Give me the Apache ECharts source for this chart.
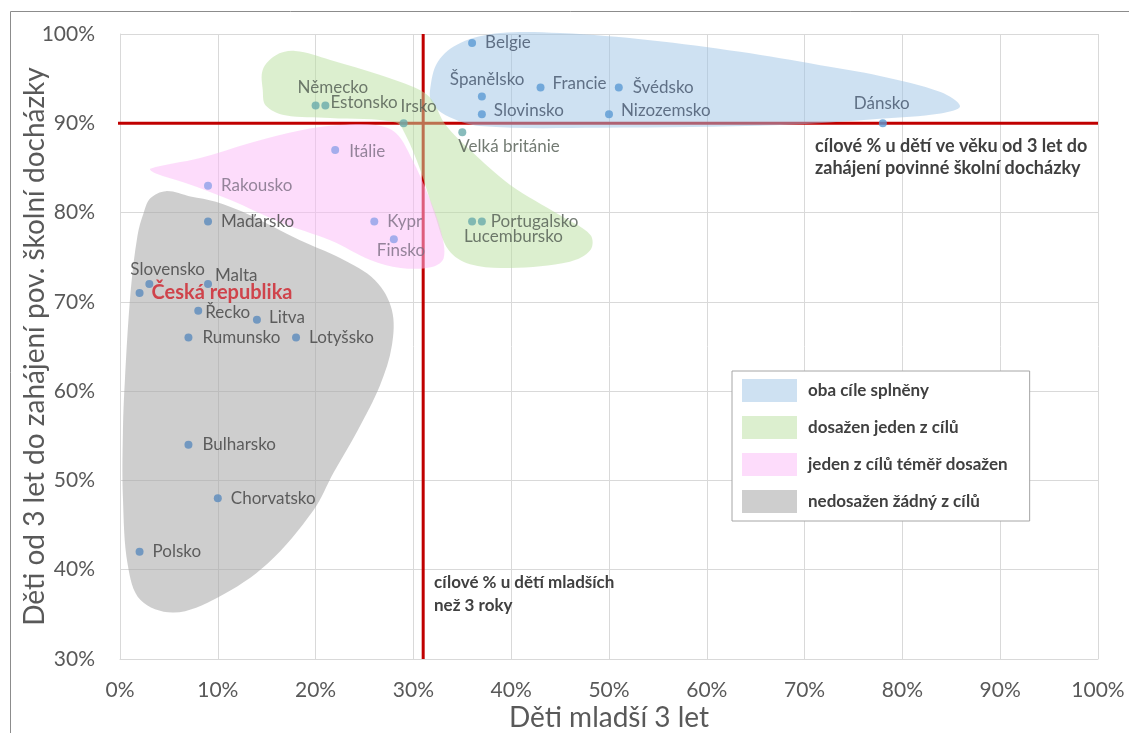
<!DOCTYPE html>
<html>
<head>
<meta charset="utf-8">
<title>Cíle péče o děti</title>
<script src="https://cdn.jsdelivr.net/npm/echarts@6/dist/echarts.min.js"></script>
<style>
  html, body { margin: 0; padding: 0; background: #fff; }
  #chart { width: 1129px; height: 733px; }
</style>
</head>
<body>
<div id="chart"></div>
<script>
// hodnoty (%)
const countries = ['Belgie', 'Španělsko', 'Francie', 'Švédsko', 'Slovinsko', 'Nizozemsko', 'Dánsko',
  'Německo', 'Estonsko', 'Irsko', 'Velká británie', 'Portugalsko', 'Lucembursko',
  'Itálie', 'Rakousko', 'Kypr', 'Finsko',
  'Maďarsko', 'Slovensko', 'Malta', 'Česká republika', 'Řecko', 'Litva', 'Rumunsko', 'Lotyšsko',
  'Bulharsko', 'Chorvatsko', 'Polsko']
const under3 = [36, 37, 43, 51, 37, 50, 78, 20, 21, 29, 35, 37, 36, 22, 9, 26, 28, 9, 3, 9, 2, 8, 14, 7, 18, 7, 10, 2]
const from3 = [99, 93, 94, 94, 91, 91, 90, 92, 92, 90, 89, 79, 79, 87, 83, 79, 77, 79, 72, 72, 71, 69, 68, 66, 66, 54, 48, 42]
const groupOf = ['both', 'both', 'both', 'both', 'both', 'both', 'both',
  'one', 'one', 'one', 'one', 'one', 'one',
  'almost', 'almost', 'almost', 'almost',
  'none', 'none', 'none', 'none', 'none', 'none', 'none', 'none', 'none', 'none', 'none']

const targetUnder3 = 31
const targetFrom3 = 90

const groupNames = ['oba cíle splněny', 'dosažen jeden z cílů', 'jeden z cílů téměř dosažen', 'nedosažen žádný z cílů']
const xTicks = [0, 10, 20, 30, 40, 50, 60, 70, 80, 90, 100]
const yTicks = [30, 40, 50, 60, 70, 80, 90, 100]

// obrysy vyznačených oblastí v souřadnicích os [x %, y %]
const blobBoth = [[31.7, 93.7], [32.5, 96.9], [34.8, 99.0], [38.9, 100.1], [45.0, 100.1], [54.2, 99.3], [63.4, 98.0],
  [71.6, 96.5], [77.7, 95.3], [83.9, 93.5], [85.9, 91.9], [83.9, 91.1], [77.7, 90.5], [67.5, 89.8],
  [49.1, 89.5], [36.8, 89.7], [33.3, 90.9], [31.9, 92.3]]
const blobOne = [[14.6, 93.7], [14.6, 96.0], [15.9, 97.6], [17.9, 98.1], [21.5, 97.1], [26.6, 95.4], [30.7, 93.7],
  [31.9, 92.6], [33.3, 89.8], [35.8, 87.0], [39.9, 83.1], [45.0, 79.7], [48.1, 77.5], [48.1, 75.8],
  [46.0, 74.5], [39.9, 73.8], [35.8, 74.2], [33.6, 75.8], [32.2, 79.7], [30.7, 84.8], [29.2, 88.7],
  [28.2, 90.1], [21.5, 90.6], [16.9, 90.9], [14.9, 92.0]]
const blobAlmost = [[3.1, 84.9], [8.2, 86.1], [13.3, 87.8], [18.4, 89.2], [22.5, 89.8], [26.1, 89.8], [28.2, 88.9],
  [29.9, 85.9], [31.5, 82.0], [32.8, 78.0], [33.1, 74.9], [31.9, 73.9], [28.7, 73.8], [25.6, 74.7],
  [21.5, 76.9], [16.4, 78.9], [11.3, 81.4], [6.7, 83.3], [3.6, 84.4]]
const blobNone = [[2.4, 79.9], [3.1, 81.6], [4.7, 82.4], [7.2, 81.8], [9.8, 81.2], [13.3, 79.7], [18.4, 76.9],
  [22.5, 74.9], [26.1, 72.4], [27.8, 69.1], [27.8, 65.1], [26.6, 60.7], [24.3, 55.6], [21.8, 50.8],
  [19.8, 46.7], [15.1, 40.7], [10.0, 36.9], [5.5, 35.2], [2.1, 36.6], [0.8, 40.5], [0.3, 48.1],
  [0.3, 55.6], [0.5, 61.2], [1.1, 71.3], [1.8, 77.5]]

const groupStyle = {
  both: { blob: 'rgba(157, 195, 230, 0.5)', dot: '#5b9bd5', text: '#44546a' },
  one: { blob: 'rgba(185, 223, 160, 0.5)', dot: '#6aabab', text: '#505a50' },
  almost: { blob: 'rgba(251, 185, 247, 0.5)', dot: '#8fa3e8', text: '#7a6e82' },
  none: { blob: 'rgba(166, 166, 166, 0.55)', dot: '#5b8bbd', text: '#404040' }
}

// posun začátku popisku a jeho středu od bodu, v pixelech
const labelShift = {
  'Belgie': [13, 0],
  'Španělsko': [-32, -17],
  'Francie': [12, -4],
  'Švédsko': [14, 0],
  'Slovinsko': [12, -4],
  'Nizozemsko': [12, -4],
  'Dánsko': [-29, -20],
  'Německo': [-18, -18],
  'Estonsko': [5, -3],
  'Irsko': [-3, -17],
  'Velká británie': [-4, 14],
  'Portugalsko': [9, 0],
  'Lucembursko': [-8, 15],
  'Itálie': [14, 1],
  'Rakousko': [13, 0],
  'Kypr': [13, 0],
  'Finsko': [-17, 11],
  'Maďarsko': [13, 0],
  'Slovensko': [-19, -14],
  'Malta': [7, -8],
  'Česká republika': [12, 0],
  'Řecko': [7, 2],
  'Litva': [12, -2],
  'Rumunsko': [14, 0],
  'Lotyšsko': [13, 0],
  'Bulharsko': [14, 0],
  'Chorvatsko': [13, 0],
  'Polsko': [13, 0]
}

const font = 'Lato, "Open Sans", sans-serif'
const dotSize = 8
const xMax = xTicks[xTicks.length - 1]

const points = countries.map((name, i) => {
  const st = groupStyle[groupOf[i]]
  const shift = labelShift[name] || [10, 0]
  const label = {
    show: true,
    formatter: name,
    position: [dotSize / 2 + shift[0], dotSize / 2 + shift[1]],
    align: 'left',
    verticalAlign: 'middle',
    color: st.text,
    fontFamily: font,
    fontSize: 17
  }
  if (name === 'Česká republika') {
    label.color = '#d0202a'
    label.fontWeight = 'bold'
    label.fontSize = 20
  }
  return {
    name: name,
    value: [under3[i], from3[i]],
    itemStyle: { color: st.dot },
    label: label
  }
})

const blobSeries = (name, outline, color) => ({
  name: name,
  type: 'custom',
  z: 2,
  silent: true,
  itemStyle: { color: color },
  data: [[0, 0]],
  renderItem: (params, api) => ({
    type: 'polygon',
    shape: { points: outline.map(p => api.coord(p)), smooth: 0.35 },
    style: { fill: api.visual('color') }
  })
})

const targetLine = (data) => ({
  type: 'line',
  z: 1,
  silent: true,
  clip: false,
  symbol: 'none',
  lineStyle: { color: '#c00000', width: 3 },
  data: data
})

const chart = echarts.init(document.getElementById('chart'))

const option = {
  animation: false,
  textStyle: { fontFamily: font },
  grid: { left: 120, right: 31, top: 34, bottom: 74, containLabel: false, outerBoundsMode: 'none' },
  legend: {
    orient: 'vertical',
    left: 732,
    top: 371,
    icon: 'rect',
    itemWidth: 55,
    itemHeight: 23,
    itemGap: 14,
    padding: [8, 22, 8, 10],
    backgroundColor: '#fff',
    borderColor: '#a6a6a6',
    borderWidth: 1,
    data: groupNames,
    textStyle: { color: '#404040', fontWeight: 'bold', fontSize: 17, padding: [0, 0, 0, 6] }
  },
  xAxis: {
    type: 'value',
    min: xTicks[0],
    max: xMax,
    interval: 10,
    name: 'Děti mladší 3 let',
    nameLocation: 'middle',
    nameGap: 45,
    nameMoveOverlap: false,
    nameTextStyle: { color: '#595959', fontSize: 28 },
    axisLine: { lineStyle: { color: '#d9d9d9' } },
    axisTick: { show: false },
    axisLabel: { formatter: '{value}%', color: '#595959', fontSize: 21, margin: 21 },
    splitLine: { lineStyle: { color: '#d9d9d9' } }
  },
  yAxis: {
    type: 'value',
    min: yTicks[0],
    max: yTicks[yTicks.length - 1],
    interval: 10,
    name: 'Děti od 3 let do zahájení pov. školní docházky',
    nameLocation: 'middle',
    nameGap: 71,
    nameMoveOverlap: false,
    nameTextStyle: { color: '#595959', fontSize: 28 },
    axisLine: { show: true, lineStyle: { color: '#d9d9d9' } },
    axisTick: { show: false },
    axisLabel: { formatter: '{value}%', color: '#595959', fontSize: 21, margin: 25 },
    splitLine: { lineStyle: { color: '#d9d9d9' } }
  },
  graphic: [
    {
      type: 'rect',
      silent: true,
      shape: { x: 10.5, y: 11.5, width: 1200, height: 800 },
      style: { fill: 'none', stroke: '#8c8c8c', lineWidth: 1 }
    },
    {
      type: 'text',
      left: 815,
      top: 135,
      z: 10,
      style: {
        text: 'cílové % u dětí ve věku od 3 let do\nzahájení povinné školní docházky',
        fill: '#404040',
        fontFamily: font,
        fontWeight: 'bold',
        fontSize: 18,
        lineHeight: 22,
        align: 'center'
      }
    },
    {
      type: 'text',
      left: 434,
      top: 571,
      z: 10,
      style: {
        text: 'cílové % u dětí mladších\nnež 3 roky',
        fill: '#404040',
        fontFamily: font,
        fontWeight: 'bold',
        fontSize: 17,
        lineHeight: 23
      }
    }
  ],
  series: [
    targetLine([[targetUnder3, yTicks[0]], [targetUnder3, yTicks[yTicks.length - 1]]]),
    targetLine([[-1.2, targetFrom3], [xMax, targetFrom3]]),
    blobSeries(groupNames[0], blobBoth, groupStyle.both.blob),
    blobSeries(groupNames[1], blobOne, groupStyle.one.blob),
    blobSeries(groupNames[2], blobAlmost, groupStyle.almost.blob),
    blobSeries(groupNames[3], blobNone, groupStyle.none.blob),
    {
      name: 'země',
      type: 'scatter',
      z: 5,
      symbolSize: dotSize,
      data: points,
      labelLayout: { hideOverlap: false }
    }
  ]
}

chart.setOption(option)
</script>
</body>
</html>
